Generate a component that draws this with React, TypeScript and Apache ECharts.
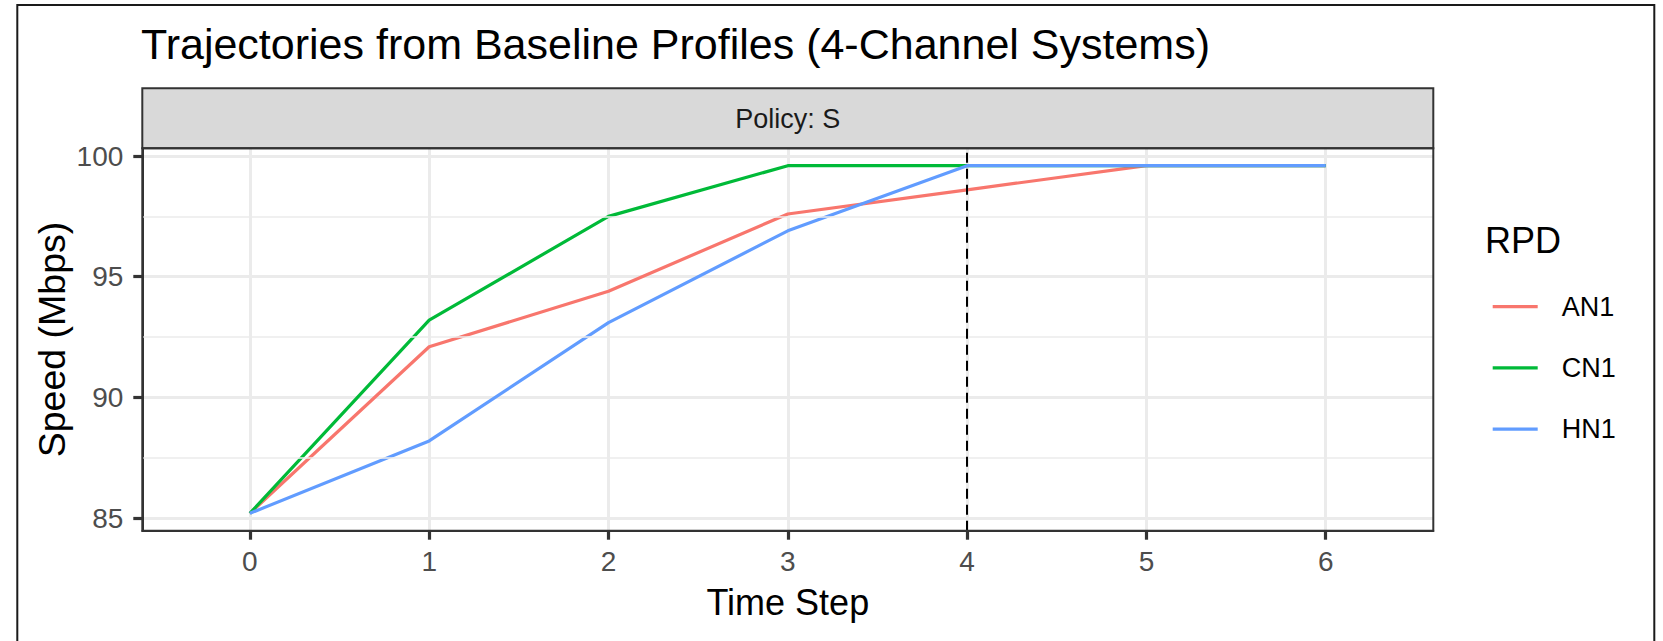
import React, { useEffect, useRef } from "react";
import * as echarts from "echarts";

const steps = [0, 1, 2, 3, 4, 5, 6];
const seriesNames = ["AN1", "CN1", "HN1"];
const seriesColors = ["#F8766D", "#00BA38", "#619CFF"];
const an1 = [85.2, 92.1, 94.4, 97.6, 98.6, 99.6, 99.6];
const cn1 = [85.2, 93.2, 97.5, 99.6, 99.6, 99.6, 99.6];
const hn1 = [85.2, 88.2, 93.1, 96.9, 99.6, 99.6, 99.6];
const xTicks = [0, 1, 2, 3, 4, 5, 6];
const yTicks = [85, 90, 95, 100];
const yMinor = [87.5, 92.5, 97.5];
const cutoffStep = 4;

const FONT = "'Liberation Sans', Arial, Helvetica, sans-serif";

export default function App() {
  const ref = useRef<HTMLDivElement>(null);
  useEffect(() => {
    if (!ref.current) return;
    const chart = echarts.init(ref.current, undefined, { renderer: "svg" });
    const L = 142.3, T = 148.3, W = 1291, H = 382.4;
    const values = [an1, cn1, hn1];
    const option: any = {
      animation: false,
      backgroundColor: "#fff",
      textStyle: { fontFamily: FONT },
      title: {
        text: "Trajectories from Baseline Profiles (4-Channel Systems)",
        left: 141,
        top: 22,
        padding: 0,
        textStyle: { fontFamily: FONT, fontSize: 43, fontWeight: "normal", color: "#000" },
      },
      grid: { left: L, top: T, width: W, height: H, containLabel: false },
      xAxis: {
        type: "value",
        min: -0.6,
        max: 6.6,
        axisLine: { show: true, onZero: false, lineStyle: { color: "#333", width: 2 } },
        axisTick: { show: true, customValues: xTicks, length: 9, lineStyle: { color: "#333", width: 3.2 } },
        axisLabel: { customValues: xTicks, color: "#4D4D4D", fontSize: 28, margin: 17, fontFamily: FONT },
        splitLine: { show: true, lineStyle: { color: "#EBEBEB", width: 3 } },
        name: "Time Step",
        nameLocation: "middle",
        nameGap: 54,
        nameTextStyle: { fontSize: 36, color: "#000", fontFamily: FONT },
      },
      yAxis: {
        type: "value",
        min: 84.48,
        max: 100.32,
        axisLine: { show: true, onZero: false, lineStyle: { color: "#333", width: 2 } },
        axisTick: { show: true, customValues: yTicks, length: 9, lineStyle: { color: "#333", width: 3.2 } },
        axisLabel: { customValues: yTicks, color: "#4D4D4D", fontSize: 28, margin: 19, fontFamily: FONT },
        splitLine: { show: true, lineStyle: { color: "#EBEBEB", width: 3 } },
      },
      legend: {
        orient: "vertical",
        left: 1492.7,
        top: 292.7,
        padding: 0,
        itemGap: 33.2,
        itemWidth: 45,
        itemHeight: 3.3,
        icon: "rect",
        data: seriesNames,
        textStyle: { fontSize: 27, lineHeight: 28, color: "#000", fontFamily: FONT, padding: [0, 0, 0, 19] },
      },
      series: [
        {
          type: "line",
          name: "minor-grid",
          data: [],
          z: 1,
          silent: true,
          markLine: {
            silent: true,
            symbol: "none",
            label: { show: false },
            lineStyle: { color: "#EBEBEB", width: 1.5, type: "solid" },
            data: yMinor.map((v) => ({ yAxis: v })),
          },
        },
        ...seriesNames.map((n, i) => ({
          type: "line",
          name: n,
          data: steps.map((s, j) => [s, values[i][j]]),
          showSymbol: false,
          symbol: "none",
          color: seriesColors[i],
          lineStyle: { color: seriesColors[i], width: 3.2 },
          z: 2 + i,
        })),
        {
          type: "line",
          name: "cutoff",
          data: [],
          z: 6,
          silent: true,
          markLine: {
            silent: true,
            symbol: "none",
            label: { show: false },
            lineStyle: { color: "#000", width: 2, type: [10, 6] },
            data: [{ xAxis: cutoffStep }],
          },
        },
      ],
      graphic: [
        {
          type: "rect",
          z: 10,
          shape: { x: L, y: 88.3, width: W, height: T - 88.3 },
          style: { fill: "#D9D9D9", stroke: "#333", lineWidth: 2 },
        },
        {
          type: "text",
          z: 11,
          x: L + W / 2,
          y: 119,
          style: { text: "Policy: S", fontSize: 27, fontFamily: FONT, fill: "#1A1A1A", align: "center", verticalAlign: "middle" },
        },
        {
          type: "rect",
          z: 10,
          shape: { x: L, y: T, width: W, height: H },
          style: { fill: "none", stroke: "#333", lineWidth: 2 },
        },
        {
          type: "text",
          z: 11,
          x: 51.7,
          y: T + H / 2,
          rotation: Math.PI / 2,
          style: { text: "Speed (Mbps)", fontSize: 37.5, fontFamily: FONT, fill: "#000", align: "center", verticalAlign: "middle" },
        },
        {
          type: "text",
          z: 11,
          x: 1485,
          y: 240,
          style: { text: "RPD", fontSize: 36, fontFamily: FONT, fill: "#000", align: "left", verticalAlign: "middle" },
        },
        {
          type: "rect",
          z: 12,
          shape: { x: 17.3, y: 5, width: 1637, height: 700 },
          style: { fill: "none", stroke: "#1a1a1a", lineWidth: 2 },
        },
      ],
    };
    chart.setOption(option);
    return () => chart.dispose();
  }, []);
  return <div ref={ref} style={{ position: "absolute", left: 0, top: 0, width: 1663, height: 641 }} />;
}
